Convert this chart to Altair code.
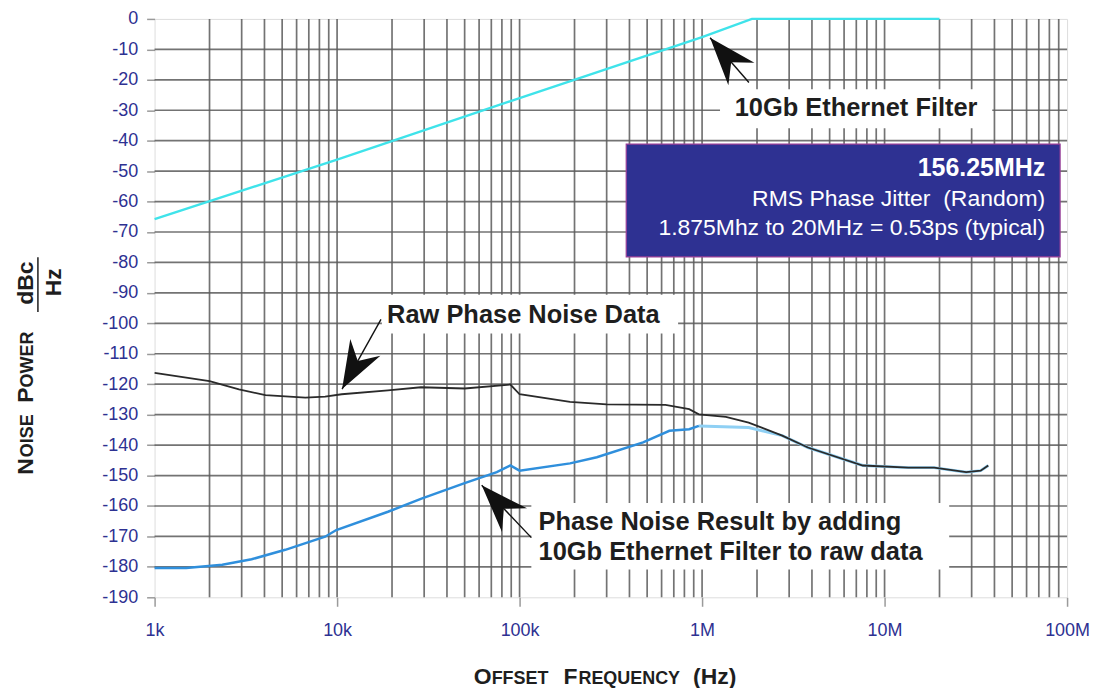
import altair as alt
import pandas as pd

# ---------------- data ----------------
filt_f = [1000, 10000, 100000, 1000000, 1875000, 20000000]
filt_v = [-65.8, -46.2, -26.0, -6.0, 0.0, 0.0]

raw_f = [1000, 2000, 2900, 4050, 6700, 8600, 10600, 19000, 28800, 50000, 89000,
         100000, 189000, 300000, 630000, 850000, 960000, 1350000, 1800000,
         2750000, 3800000, 7600000, 13500000, 18700000, 28000000, 33600000, 37000000]
raw_v = [-116.3, -119.0, -121.7, -123.6, -124.4, -124.1, -123.3, -122.0, -121.0,
         -121.4, -120.1, -123.3, -125.8, -126.6, -126.8, -128.2, -129.9, -130.7,
         -132.6, -136.9, -140.8, -146.7, -147.4, -147.4, -148.9, -148.4, -146.7]

res_f = [1000, 1490, 2350, 3400, 5200, 8600, 9900, 19000, 29000, 50000, 75000,
         89000, 100000, 189000, 265000, 475000, 662000, 850000, 960000]
res_v = [-180.4, -180.4, -179.3, -177.5, -174.4, -170.1, -167.9, -161.9, -157.6,
         -152.5, -148.9, -146.7, -148.4, -146.0, -144.0, -139.1, -135.3, -134.8, -133.7]

res_tail_f = [960000, 1800000, 2750000, 3800000, 7600000, 13500000, 18700000,
              28000000, 33600000, 37000000]
res_tail_v = [-133.7, -134.2, -136.9, -140.8, -146.7, -147.4, -147.4, -148.9,
              -148.4, -146.7]

x_ticks = [1000, 10000, 100000, 1000000, 10000000, 100000000]
x_tick_labels = ["1k", "10k", "100k", "1M", "10M", "100M"]
y_ticks = list(range(-190, 1, 10))

x_grid = [m * 10 ** e for e in range(3, 8) for m in range(1, 10)][1:]
y_grid = list(range(-180, 0, 10))

x_title_parts = ["O", "FFSET", "F", "REQUENCY", "(Hz)"]
y_title_parts = ["N", "OISE", "P", "OWER"]
unit_num = ["dBc"]
unit_den = ["Hz"]

raw_label = ["Raw Phase Noise Data"]
filter_label = ["10Gb Ethernet Filter"]
result_label = ["Phase Noise Result by adding", "10Gb Ethernet Filter to raw data"]
info_lines = ["156.25MHz", "RMS Phase Jitter\u00a0 (Random)",
              "1.875Mhz to 20MHz = 0.53ps (typical)"]

# ---------------- styling ----------------
FONT = "Liberation Sans"
NAVY = "#2e3192"
W, H = 915, 580

xscale = alt.Scale(type="log", domain=[1000, 100000000], nice=False)
yscale = alt.Scale(domain=[-190, 0], nice=False, zero=False)

x_label_expr = " : ".join(f"datum.value == {v} ? '{l}'" for v, l in zip(x_ticks, x_tick_labels)) + " : ''"

xaxis = alt.Axis(values=x_ticks, labelExpr=x_label_expr, title=None, grid=False,
                 domain=False, tickColor="#9a9a9a", tickSize=9, tickWidth=1.5,
                 labelFont=FONT, labelFontSize=18, labelColor=NAVY, labelPadding=15,
                 labelFlush=False, labelOverlap=False)
yaxis = alt.Axis(values=y_ticks, labelExpr="datum.value == 0 ? '0' : '-' + abs(datum.value)",
                 title=None, grid=False, domain=False, tickColor="#9a9a9a", tickSize=8,
                 tickWidth=1.5, labelFont=FONT, labelFontSize=18, labelColor=NAVY,
                 labelPadding=9, labelOverlap=False)


def X(field):
    return alt.X(field, type="quantitative", scale=xscale, axis=xaxis)


def Y(field):
    return alt.Y(field, type="quantitative", scale=yscale, axis=yaxis)


# grid
vgrid = alt.Chart(pd.DataFrame({"f": x_grid})).mark_rule(
    color="#5a5a5a", strokeWidth=1.7, opacity=0.85).encode(x=X("f"))
hgrid = alt.Chart(pd.DataFrame({"v": y_grid})).mark_rule(
    color="#5a5a5a", strokeWidth=1.7, opacity=0.85).encode(y=Y("v"))

# curves
filt = alt.Chart(pd.DataFrame({"f": filt_f, "v": filt_v})).mark_line(
    color="#3fe3ea", strokeWidth=2.4).encode(x=X("f"), y=Y("v"))
res_tail = alt.Chart(pd.DataFrame({"f": res_tail_f, "v": res_tail_v})).mark_line(
    color="#8fd0f4", strokeWidth=3).encode(x=X("f"), y=Y("v"))
res = alt.Chart(pd.DataFrame({"f": res_f, "v": res_v})).mark_line(
    color="#2f8fdc", strokeWidth=2.5).encode(x=X("f"), y=Y("v"))
raw = alt.Chart(pd.DataFrame({"f": raw_f, "v": raw_v})).mark_line(
    color="#2a2a2a", strokeWidth=1.8).encode(x=X("f"), y=Y("v"))

# annotation boxes (anchored in data coordinates)
boxes_df = pd.DataFrame({
    "f1": [17600, 1254000, 116000],
    "f2": [739000, 38900000, 22600000],
    "v1": [-90.6, -23.1, -159.0],
    "v2": [-103.3, -35.9, -180.9],
})
boxes = alt.Chart(boxes_df).mark_rect(color="white", opacity=1).encode(
    x=X("f1"), x2="f2", y=Y("v1"), y2="v2")

info_box = alt.Chart(pd.DataFrame({"f1": [384000], "f2": [91600000],
                                   "v1": [-41.1], "v2": [-78.2]})).mark_rect(
    color="#2e3192", stroke="#9a3f98", strokeWidth=1.2, opacity=1).encode(
    x=X("f1"), x2="f2", y=Y("v1"), y2="v2")

raw_text = alt.Chart(pd.DataFrame({"t": raw_label, "f": [18800], "v": [-100.05]})).mark_text(
    align="left", baseline="alphabetic", font=FONT, fontSize=25.5, fontWeight="bold",
    color="#1e1e1e").encode(x=X("f"), y=Y("v"), text="t")
filter_text = alt.Chart(pd.DataFrame({"t": filter_label, "f": [6980000], "v": [-31.9]})).mark_text(
    align="center", baseline="alphabetic", font=FONT, fontSize=25.5, fontWeight="bold",
    color="#1e1e1e").encode(x=X("f"), y=Y("v"), text="t")
result_text = alt.Chart(pd.DataFrame({"t": result_label, "f": [127000, 127000],
                                      "v": [-167.8, -177.6]})).mark_text(
    align="left", baseline="alphabetic", font=FONT, fontSize=25.5, fontWeight="bold",
    color="#1e1e1e").encode(x=X("f"), y=Y("v"), text="t")

info_head = alt.Chart(pd.DataFrame({"t": info_lines[:1], "f": [75800000], "v": [-51.5]})).mark_text(
    align="right", baseline="alphabetic", font=FONT, fontSize=25, fontWeight="bold",
    color="white").encode(x=X("f"), y=Y("v"), text="t")
info_body = alt.Chart(pd.DataFrame({"t": info_lines[1:], "f": [75800000, 75800000],
                                    "v": [-61.6, -71.0]})).mark_text(
    align="right", baseline="alphabetic", font=FONT, fontSize=23, color="white").encode(
    x=X("f"), y=Y("v"), text="t")

# arrows: shaft from tail to tip, barbed head at tip
arrows_df = pd.DataFrame({
    "tf": [17400, 1806000, 116000],
    "tv": [-98.7, -20.9, -170.4],
    "hf": [10650, 1106000, 62000],
    "hv": [-121.6, -6.2, -153.2],
    "ang": [209.1, 319.1, 316.7],
})
shafts = alt.Chart(arrows_df).mark_rule(color="#111", strokeWidth=1.4).encode(
    x=X("tf"), x2="hf", y=Y("tv"), y2="hv")
heads = alt.Chart(arrows_df).mark_point(
    filled=True, color="#111", opacity=1, size=2300,
    shape="M0,0 L0.72,2 L0,1.35 L-0.72,2 Z").encode(
    x=X("hf"), y=Y("hv"), angle=alt.Angle("ang", type="quantitative", scale=None))

# axis titles in small caps (pieces)
xt_df = pd.DataFrame({"t": x_title_parts, "px": [320, 338, 410, 425, 540],
                      "sz": [23, 18, 23, 18, 23]})
x_title = alt.Chart(xt_df).mark_text(
    align="left", baseline="alphabetic", font=FONT, fontWeight="bold", color="#1e1e1e").encode(
    x=alt.X("px", type="quantitative", scale=None, axis=None),
    y=alt.value(667), text="t",
    size=alt.Size("sz", type="quantitative", scale=None, legend=None))

yt_df = pd.DataFrame({"t": y_title_parts, "py": [457, 439.5, 385, 369.5],
                      "sz": [23, 18, 23, 18]})
y_title = alt.Chart(yt_df).mark_text(
    align="left", baseline="alphabetic", angle=270, font=FONT, fontWeight="bold",
    color="#1e1e1e").encode(
    x=alt.value(-122),
    y=alt.Y("py", type="quantitative", scale=None, axis=None), text="t",
    size=alt.Size("sz", type="quantitative", scale=None, legend=None))

num = alt.Chart(pd.DataFrame({"t": unit_num})).mark_text(
    align="center", baseline="alphabetic", angle=270, font=FONT, fontWeight="bold",
    fontSize=23, color="#1e1e1e").encode(x=alt.value(-122), y=alt.value(265), text="t")
den = alt.Chart(pd.DataFrame({"t": unit_den})).mark_text(
    align="center", baseline="alphabetic", angle=270, font=FONT, fontWeight="bold",
    fontSize=23, color="#1e1e1e").encode(x=alt.value(-94), y=alt.value(264), text="t")
frac = alt.Chart(pd.DataFrame({"t": unit_num})).mark_rule(color="#1e1e1e", strokeWidth=1.5).encode(
    x=alt.value(-117), y=alt.value(239), y2=alt.value(294))

chart = alt.layer(
    vgrid, hgrid, filt, res_tail, res, raw,
    boxes, info_box, raw_text, filter_text, result_text, info_head, info_body,
    shafts, heads, x_title, y_title, num, den, frac,
).properties(
    width=W, height=H,
    autosize=alt.AutoSizeParams(type="none"),
    padding={"left": 147, "top": 10, "right": 25, "bottom": 90},
).configure_view(
    stroke="#1a1a1a", strokeWidth=2.5
).configure(background="white")

chart.save("out.html", embed_options={"renderer": "svg", "actions": False})
